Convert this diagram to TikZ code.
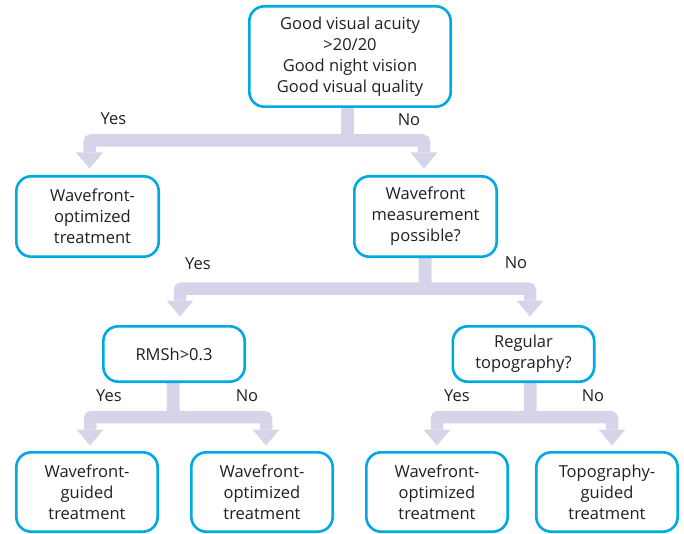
\documentclass[tikz,border=0pt]{standalone}
\usepackage{fontspec}
\setmainfont{Open Sans}
\usetikzlibrary{arrows.meta,backgrounds}
\definecolor{boxcyan}{RGB}{0,169,228}
\definecolor{arrowlav}{RGB}{213,212,233}
\definecolor{txt}{RGB}{35,31,32}
\begin{document}
\begin{tikzpicture}[x=1pt,y=-1pt,
  box/.style={draw=boxcyan,line width=2.6pt,rounded corners=15pt,inner sep=0pt,
    align=center,text=txt,font=\fontsize{16.5}{21}\selectfont,fill=white},
  lbl/.style={text=txt,font=\fontsize{16.5}{21}\selectfont,inner sep=0pt},
  flow/.style={draw=arrowlav,line width=12.5pt,rounded corners=2pt},
  flowarrow/.style={flow,-{Triangle[length=16pt,width=27pt,line width=0pt]}}]
\useasboundingbox (0,0) rectangle (684,534);

% boxes
\node[box,minimum width=201.4pt,minimum height=100.4pt] (top) at (350,56.5)
  {Good visual acuity\\>20/20\\Good night vision\\Good visual quality};
\node[box,minimum width=142.4pt,minimum height=80.4pt] (L1) at (87.5,216.5)
  {\hspace*{10pt}Wavefront-\\\hspace*{10pt}optimized\\\hspace*{10pt}treatment};
\node[box,minimum width=142.4pt,minimum height=80.4pt] (R1) at (425.5,216.5)
  {Wavefront\\measurement\\possible?};
\node[box,minimum width=141.4pt,minimum height=55.4pt] (rms) at (174,354)
  {RMSh>0.3};
\node[box,minimum width=141.4pt,minimum height=55.4pt] (reg) at (523.5,354)
  {Regular\\topography?};
\node[box,minimum width=141.4pt,minimum height=79.4pt] (b1) at (87,492)
  {Wavefront-\\guided\\treatment};
\node[box,minimum width=141.4pt,minimum height=79.4pt] (b2) at (262,492)
  {Wavefront-\\optimized\\treatment};
\node[box,minimum width=141.4pt,minimum height=79.4pt] (b3) at (437,492)
  {Wavefront-\\optimized\\treatment};
\node[box,minimum width=141.4pt,minimum height=79.4pt] (b4) at (607,492)
  {Topography-\\guided\\treatment};

% labels
\node[lbl] (y1) at (113.5,119) {Yes};
\node[lbl] (n1) at (409,120) {No};
\node[lbl] (y2) at (198,264) {Yes};
\node[lbl] (n2) at (516,263) {No};
\node[lbl] (y3) at (109,396) {Yes};
\node[lbl] (n3) at (247,396) {No};
\node[lbl] (y4) at (457,396) {Yes};
\node[lbl] (n4) at (593,396) {No};

% junctions
\coordinate (j1) at (347.5,140.5);
\coordinate (j2) at (425,288.5);
\coordinate (j3) at (173,417);
\coordinate (j4) at (530,417);

\begin{scope}[on background layer]
\draw[flowarrow] ([xshift=-2.5pt]top.south) -- (j1) -| ([xshift=2pt,yshift=6.5pt]L1.north);
\draw[flowarrow] ([xshift=-2.5pt]top.south) -- (j1) -| ([xshift=-1.5pt,yshift=6.5pt]R1.north);
\draw[flowarrow] ([xshift=-0.5pt]R1.south) -- (j2) -| ([xshift=6pt,yshift=8.5pt]rms.north);
\draw[flowarrow] ([xshift=-0.5pt]R1.south) -- (j2) -| ([xshift=6.5pt,yshift=8.5pt]reg.north);
\draw[flowarrow] ([xshift=-1pt]rms.south) -- (j3) -| ([xshift=3pt,yshift=5.5pt]b1.north);
\draw[flowarrow] ([xshift=-1pt]rms.south) -- (j3) -| ([xshift=4pt,yshift=5.5pt]b2.north);
\draw[flowarrow] ([xshift=6.5pt]reg.south) -- (j4) -| ([yshift=5.5pt]b3.north);
\draw[flowarrow] ([xshift=6.5pt]reg.south) -- (j4) -| ([xshift=5pt,yshift=5.5pt]b4.north);
\end{scope}
\end{tikzpicture}
\end{document}
